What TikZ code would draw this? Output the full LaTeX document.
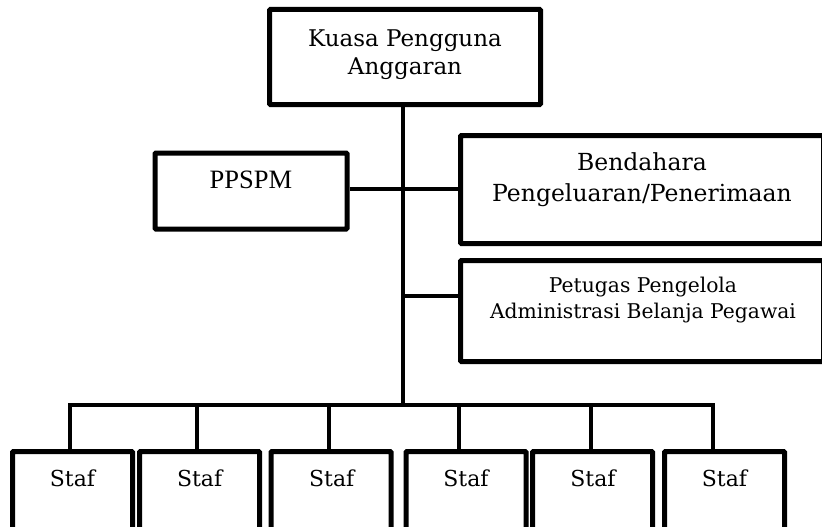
\documentclass[tikz,border=0pt]{standalone}
\usepackage{fontspec}
\setmainfont{DejaVu Serif}
\newfontfamily\timesfont{Liberation Serif}
\begin{document}
\begin{tikzpicture}[x=1pt,y=-1pt,
  box/.style={draw, line width=5pt, rounded corners=1pt, inner sep=0pt},
  conn/.style={line width=3.3pt},
  txt/.style={inner sep=0pt, align=center},
  staf/.style={box, minimum width=120pt, minimum height=108pt}]
\clip (0,0) rectangle (822,527);
% boxes
\node[box, minimum width=271pt, minimum height=95pt] (kpa) at (405,57) {};
\node[box, minimum width=192pt, minimum height=76pt] (ppspm) at (251,191) {};
\node[box, minimum width=363pt, minimum height=108pt] (bend) at (642,189.5) {};
\node[box, minimum width=363pt, minimum height=101pt] (petu) at (642,311) {};
\node[staf] (s1) at (72.5,505.5) {};
\node[staf] (s2) at (199.5,505.5) {};
\node[staf] (s3) at (331,505.5) {};
\node[staf] (s4) at (466,505.5) {};
\node[staf] (s5) at (592.5,505.5) {};
\node[staf] (s6) at (724.5,505.5) {};
% texts
\node[txt, font=\fontsize{23}{28}\selectfont] (tkpa) at (405,55) {Kuasa Pengguna\\Anggaran};
\node[txt, anchor=base, font=\timesfont\fontsize{26.5}{30}\selectfont] (tppspm) at (251,188.3) {PPSPM};
\node[txt, font=\fontsize{23.5}{31}\selectfont] (tbend) at (642,180) {Bendahara\\Pengeluaran/Penerimaan};
\node[txt, font=\fontsize{20.3}{26}\selectfont] (tpetu) at (643,300) {Petugas Pengelola\\Administrasi Belanja Pegawai};
\foreach \i/\x in {1/72.5,2/199.6,3/331.7,4/466,5/593,6/724.5}
  \node[txt, anchor=base, font=\fontsize{22}{26}\selectfont] (ts\i) at (\x,486.7) {Staf};
% connector coordinates
\coordinate (jb) at (403,405);
\coordinate (hb) at (403,189);
\coordinate (pj) at (403,296);
\coordinate (d1) at (70,405);
\coordinate (d2) at (197,405);
\coordinate (d3) at (329,405);
\coordinate (d4) at (459,405);
\coordinate (d5) at (591,405);
\coordinate (d6) at (713,405);
% connectors
\draw[conn] (jb |- kpa.south) -- (jb);
\draw[conn] (ppspm.east |- hb) -- (hb -| bend.west);
\draw[conn] (pj) -- (pj -| petu.west);
\draw[conn] (d1 |- s1.north) -- (d1) -- (d6) -- (d6 |- s6.north);
\draw[conn] (d2) -- (d2 |- s2.north);
\draw[conn] (d3) -- (d3 |- s3.north);
\draw[conn] (d4) -- (d4 |- s4.north);
\draw[conn] (d5) -- (d5 |- s5.north);
\end{tikzpicture}
\end{document}
